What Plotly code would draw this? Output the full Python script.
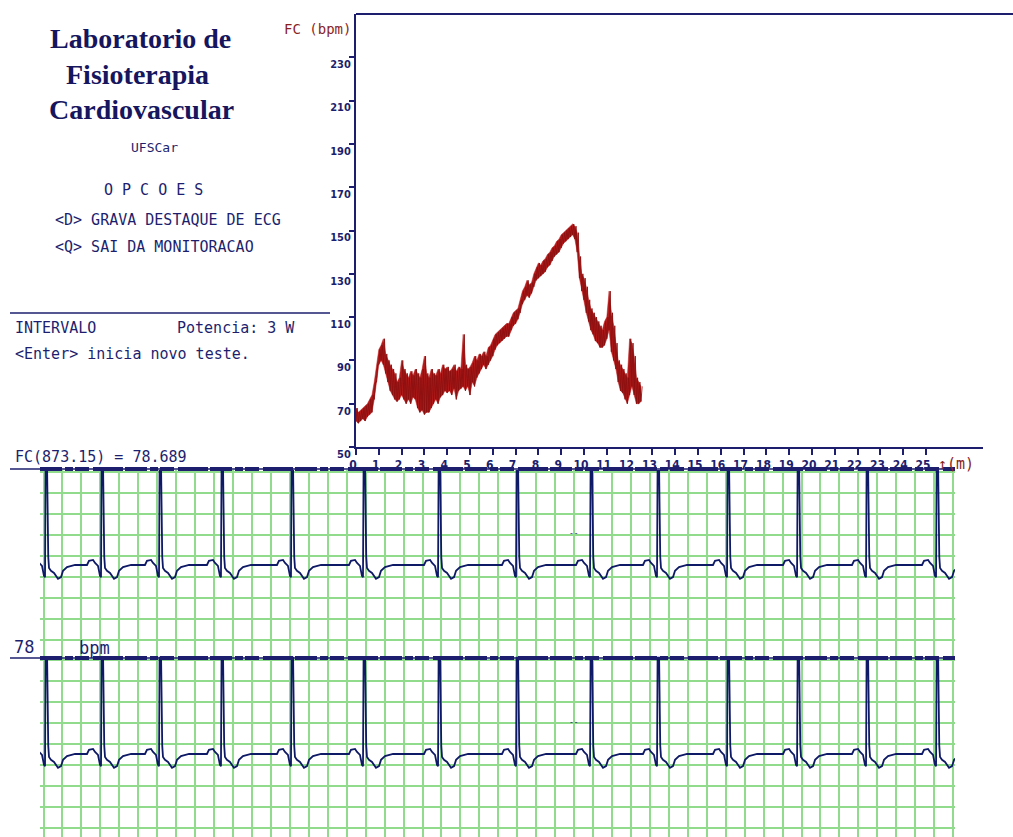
import plotly.graph_objects as go

W, H = 1013, 837

# ---------------- Heart-rate trend (FC, bpm) vs time (min) ----------------
# envelope of the noisy trace, read every 0.1 min from t = 0.0 to 12.5
hr_step = 0.1
hr_low = [62, 61, 62, 63, 62, 64, 65, 66, 72, 80,
          88, 90, 88, 84, 80, 76, 74, 72, 71, 72,
          74, 72, 70, 72, 70, 73, 72, 68, 66, 67,
          65, 66, 66, 68, 70, 72, 70, 73, 74, 76,
          75, 76, 74, 77, 72, 76, 77, 78, 76, 78,
          74, 80, 78, 82, 84, 86, 88, 86, 88, 90,
          92, 95, 97, 98, 99, 100, 101, 101, 104, 106,
          107, 109, 112, 116, 118, 120, 119, 121, 124, 127,
          128, 129, 130, 131, 133, 134, 136, 138, 139, 140,
          142, 144, 145, 146, 147, 148, 146, 140, 128, 122,
          118, 112, 108, 104, 102, 99, 98, 96, 96, 97,
          100, 104, 94, 90, 86, 80, 76, 75, 72, 70,
          74, 78, 74, 70, 70, 71]
hr_high = [68, 66, 67, 68, 69, 70, 72, 74, 80, 88,
           95, 97, 100, 93, 90, 88, 86, 84, 80, 82,
           90, 86, 84, 82, 85, 83, 86, 84, 82, 86,
           92, 84, 82, 86, 84, 83, 86, 84, 88, 86,
           87, 85, 86, 88, 85, 87, 86, 102, 88, 86,
           87, 89, 92, 90, 93, 92, 94, 92, 96, 97,
           100, 102, 103, 104, 105, 106, 107, 107, 110, 112,
           113, 114, 118, 122, 124, 127, 125, 126, 130, 133,
           135, 134, 136, 137, 139, 140, 142, 143, 145, 146,
           148, 149, 150, 151, 152, 153, 152, 149, 138, 130,
           128, 124, 118, 114, 112, 110, 108, 106, 104, 108,
           110, 122, 112, 106, 98, 90, 88, 86, 84, 82,
           100, 98, 92, 82, 80, 78]
hr_xticks = list(range(0, 26))
hr_yticks = [50, 70, 90, 110, 130, 150, 170, 190, 210, 230]

# ---------------- ECG strips (time in s, amplitude in mV) ----------------
ecg_beats_s = [0.016, 0.607, 1.219, 1.873, 2.612, 3.372, 4.164,
               4.987, 5.768, 6.475, 7.214, 7.953, 8.681, 9.420]
beat_dt = [-0.148, -0.127, -0.084, -0.063, -0.032, -0.011, 0.0, 0.006,
           0.022, 0.028, 0.034, 0.042, 0.063, 0.095, 0.137, 0.169, 0.19, 0.232, 0.317]
beat_mv = [0.0, 0.10, 0.12, 0.05, -0.02, -0.26, -0.29, 2.3,
           2.3, 0.9, 0.2, -0.07, -0.14, -0.19, -0.33, -0.29, -0.14, -0.05, 0.0]
strip_baselines = [6.78, 2.267]

NAVY = "#1d1f6e"
RED = "#b51a1a"
DARKRED = "#8a1010"
GREEN = "#90dc8c"
MONO = "DejaVu Sans Mono, monospace"
NARROW = "Liberation Sans Narrow, DejaVu Sans Condensed, Arial Narrow, sans-serif"


def px(x):
    return x / W


def py(y):
    return 1 - y / H


fig = go.Figure()

# HR band (envelope) + jagged trace
hr_t = [i * hr_step for i in range(len(hr_low))]
fig.add_trace(go.Scatter(x=hr_t, y=hr_low, mode="lines", line=dict(color=RED, width=0.5),
                         xaxis="x", yaxis="y", showlegend=False, hoverinfo="skip"))
fig.add_trace(go.Scatter(x=hr_t, y=hr_high, mode="lines", line=dict(color=RED, width=0.5),
                         fill="tonexty", fillcolor=RED,
                         xaxis="x", yaxis="y", showlegend=False, hoverinfo="skip"))
hr_x, hr_y = [], []
for t, lo, hi in zip(hr_t, hr_low, hr_high):
    hr_x += [t, t + hr_step / 2]
    hr_y += [lo, hi]
fig.add_trace(go.Scatter(x=hr_x, y=hr_y, mode="lines",
                         line=dict(color=DARKRED, width=0.9),
                         xaxis="x", yaxis="y", showlegend=False, hoverinfo="skip"))

# ECG traces
for base in strip_baselines:
    ex, ey = [], []
    for bt in ecg_beats_s:
        for dt, mv in zip(beat_dt, beat_mv):
            ex.append(bt + dt)
            ey.append(base + mv)
    fig.add_trace(go.Scatter(x=ex, y=ey, mode="lines",
                             line=dict(color="#0f1a66", width=1.8),
                             xaxis="x2", yaxis="y2", showlegend=False, hoverinfo="skip"))

tickfont = dict(family=NARROW, size=11, color=NAVY, weight="bold")

fig.update_layout(
    width=W, height=H, margin=dict(l=0, r=0, t=0, b=0, pad=0, autoexpand=False),
    paper_bgcolor="white", plot_bgcolor="white", showlegend=False,
    xaxis=dict(domain=[px(356), px(983)], range=[0, 27.5], anchor="y", automargin=False,
               tickvals=hr_xticks, showgrid=False, zeroline=False,
               showline=True, linecolor=NAVY, linewidth=2,
               ticks="outside", ticklen=6, tickwidth=1.5, tickcolor=NAVY,
               tickfont=dict(family=NARROW, size=12, color=NAVY, weight="bold"),
               ticklabelshift=-3),
    yaxis=dict(domain=[py(447), py(14)], range=[50, 250], anchor="x", automargin=False,
               tickvals=hr_yticks, showgrid=False, zeroline=False,
               showline=True, linecolor=NAVY, linewidth=2,
               ticks="outside", ticklen=5, tickwidth=1.5, tickcolor=NAVY,
               tickfont=tickfont, ticklabelshift=7, ticklabelstandoff=-4),
    xaxis2=dict(domain=[px(40), px(955)], range=[-0.037, 9.62], anchor="y2", automargin=False,
                tick0=0, dtick=0.2, showgrid=True, gridcolor=GREEN, gridwidth=2,
                showticklabels=False, ticks="", zeroline=False, showline=False),
    yaxis2=dict(domain=[py(837), py(470)], range=[0.285, 9.048], anchor="x2", automargin=False,
                tick0=0, dtick=0.5, showgrid=True, gridcolor=GREEN, gridwidth=2,
                showticklabels=False, ticks="", zeroline=False, showline=False),
)

shapes = []


def hline(x0, x1, y, width=1.5, dash=None):
    line = dict(color=NAVY, width=width)
    if dash:
        line["dash"] = dash
    shapes.append(dict(type="line", xref="paper", yref="paper",
                       x0=px(x0), x1=px(x1), y0=py(y), y1=py(y), line=line))


hline(356, 1013, 14, 2)
hline(10, 330, 313, 1.5)
for yy in (469, 658):
    hline(10, 955, yy, 1.5)
    hline(40, 955, yy, 4, "22px,3px,8px,2px,14px,4px,30px,2px")
fig.update_layout(shapes=shapes)

ann = []


def text(s, x, y, size=15, color=NAVY, family=MONO, xanchor="left", weight="normal"):
    ann.append(dict(text=s, x=px(x), y=py(y), xref="paper", yref="paper",
                    xanchor=xanchor, yanchor="middle", showarrow=False,
                    font=dict(family=family, size=size, color=color, weight=weight)))


SERIF = "Liberation Serif, DejaVu Serif, serif"
text("Laboratorio de", 140, 39, 28, "#16165e", SERIF, "center", "bold")
text("Fisioterapia", 137, 74, 28, "#16165e", SERIF, "center", "bold")
text("Cardiovascular", 141, 110, 28, "#16165e", SERIF, "center", "bold")
text("UFSCar", 154, 147, 13, NAVY, MONO, "center")
text("O P C O E S", 153, 190, 15, NAVY, MONO, "center")
text("&lt;D&gt; GRAVA DESTAQUE DE ECG", 53, 220, 15)
text("&lt;Q&gt; SAI DA MONITORACAO", 53, 247, 15)
text("INTERVALO", 13, 328, 15)
text("Potencia: 3 W", 175, 328, 15)
text("&lt;Enter&gt; inicia novo teste.", 13, 354, 15)
text("FC(873.15) = 78.689", 13, 457, 15)
text("78", 12, 647, 17)
text("bpm", 77, 648, 17)
text("FC (bpm)", 353, 29, 14, "#8a1f1f", MONO, "right")
text("↑(m)", 936, 464, 15, "#8a1f1f", MONO, "left")
text("--", 567, 533, 8, NAVY)
text("--", 567, 722, 8, NAVY)
fig.update_layout(annotations=ann)

fig.write_html("out.html")
